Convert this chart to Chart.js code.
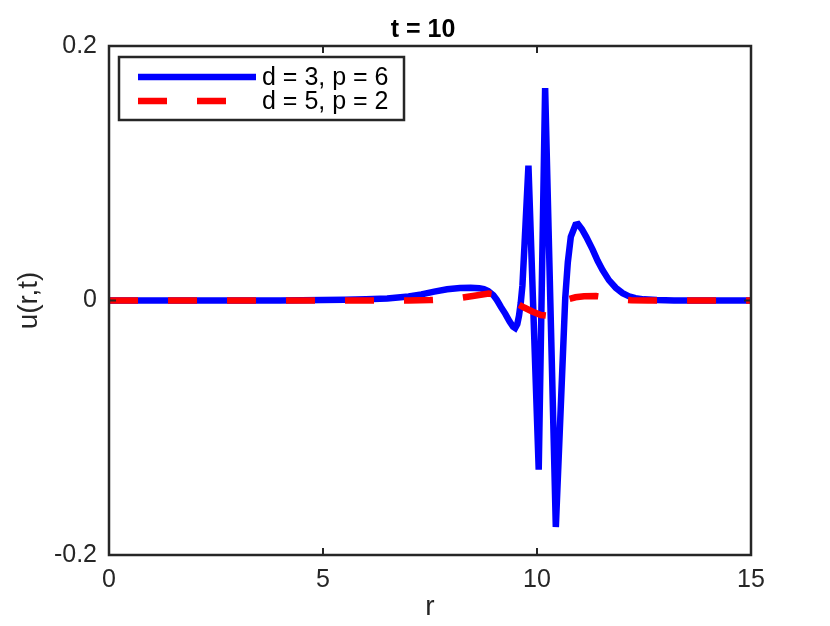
<!DOCTYPE html>
<html>
<head>
<meta charset="utf-8">
<script src="https://cdn.jsdelivr.net/npm/chart.js@4/dist/chart.umd.min.js"></script>
<style>
  html, body { margin: 0; padding: 0; background: #ffffff; }
  #wrap { width: 830px; height: 626px; position: relative; }
</style>
</head>
<body>
<div id="wrap"><canvas id="c" width="830" height="626"></canvas></div>
<script>
// ---- data ----
const chartTitle = 't = 10';
const xTitle = 'r';
const yTitle = 'u(r,t)';
const xTicks = [0, 5, 10, 15];
const yTicks = [-0.2, 0, 0.2];

const labelBlue = 'd = 3, p = 6';
const rBlue = [0, 1, 2, 3, 4, 5, 5.5, 6, 6.5, 7, 7.3, 7.6, 7.9, 8.2, 8.45, 8.65, 8.76, 8.86, 8.98, 9.06, 9.16, 9.26, 9.36, 9.44, 9.49, 9.54, 9.58, 9.62, 9.66, 9.71, 9.80, 10.04, 10.19, 10.44, 10.66, 10.72, 10.79, 10.9, 10.96, 11.05, 11.15, 11.3, 11.42, 11.53, 11.68, 11.84, 12.0, 12.15, 12.3, 12.5, 12.8, 13.2, 14, 15];
const uBlue = [0, 0, 0, 0, 0, 0.0003, 0.0005, 0.0009, 0.0015, 0.0032, 0.0048, 0.0070, 0.0088, 0.0099, 0.0101, 0.0097, 0.0089, 0.0075, 0.0042, 0.0005, -0.0052, -0.0105, -0.0165, -0.0205, -0.0216, -0.0185, -0.012, -0.002, 0.012, 0.045, 0.106, -0.133, 0.167, -0.178, 0.002, 0.03, 0.05, 0.0595, 0.060, 0.056, 0.050, 0.040, 0.031, 0.024, 0.016, 0.010, 0.0058, 0.0033, 0.0018, 0.0009, 0.0003, 0, 0, 0];

const labelRed = 'd = 5, p = 2';
const rRed = [0, 3, 6, 7, 7.5, 7.9, 8.2, 8.5, 8.87, 9.1, 9.3, 9.51, 9.7, 9.9, 10.09, 10.25, 10.4, 10.55, 10.71, 10.9, 11.1, 11.38, 11.6, 11.85, 12.2, 12.6, 15];
const uRed = [0, 0, 0, 0, 0.0003, 0.001, 0.002, 0.0035, 0.0055, 0.0045, 0.0015, -0.002, -0.0055, -0.0088, -0.0114, -0.012, -0.0095, -0.005, 0.0008, 0.0025, 0.0033, 0.0035, 0.0025, 0.001, 0.0002, 0, 0];

// ---- styling ----
const AXIS_COLOR = '#262626';
const FONT = "'Liberation Sans', Arial, Helvetica, sans-serif";

function toPoints(xs, ys) { return xs.map((x, i) => ({ x: x, y: ys[i] })); }

const frameAndLegend = {
  id: 'frameAndLegend',
  afterDatasetsDraw(chart) {
    const ctx = chart.ctx;
    const a = chart.chartArea;
    const xs = chart.scales.x, ys = chart.scales.y;
    ctx.save();
    // box
    ctx.strokeStyle = AXIS_COLOR;
    ctx.lineWidth = 2.5;
    ctx.strokeRect(a.left, a.top, a.right - a.left, a.bottom - a.top);
    // inward ticks
    const tl = 7;
    ctx.lineWidth = 2;
    ctx.beginPath();
    xs.ticks.forEach(t => {
      const px = xs.getPixelForValue(t.value);
      if (px > a.left + 2 && px < a.right - 2) {
        ctx.moveTo(px, a.bottom); ctx.lineTo(px, a.bottom - tl);
        ctx.moveTo(px, a.top); ctx.lineTo(px, a.top + tl);
      }
    });
    ys.ticks.forEach(t => {
      const py = ys.getPixelForValue(t.value);
      if (py > a.top + 2 && py < a.bottom - 2) {
        ctx.moveTo(a.left, py); ctx.lineTo(a.left + tl, py);
        ctx.moveTo(a.right, py); ctx.lineTo(a.right - tl, py);
      }
    });
    ctx.stroke();

    // title
    ctx.fillStyle = '#000000';
    ctx.font = "bold 25px " + FONT;
    ctx.textAlign = 'center';
    ctx.textBaseline = 'middle';
    ctx.fillText(chartTitle, (a.left + a.right) / 2 - 7, 30);

    // legend box
    const bx = 119, by = 57, bw = 285, bh = 63;
    ctx.fillStyle = '#ffffff';
    ctx.fillRect(bx, by, bw, bh);
    ctx.strokeStyle = AXIS_COLOR;
    ctx.lineWidth = 2.5;
    ctx.strokeRect(bx, by, bw, bh);
    const ds = chart.data.datasets;
    const rows = [77, 101];
    ds.forEach((d, i) => {
      ctx.beginPath();
      ctx.strokeStyle = d.borderColor;
      ctx.lineWidth = d.borderWidth;
      ctx.lineCap = 'butt';
      ctx.setLineDash(d.borderDash || []);
      ctx.moveTo(138, rows[i]);
      ctx.lineTo(256, rows[i]);
      ctx.stroke();
      ctx.setLineDash([]);
      ctx.fillStyle = '#000000';
      ctx.font = "25px " + FONT;
      ctx.textAlign = 'left';
      ctx.textBaseline = 'middle';
      ctx.fillText(d.label, 262, rows[i] + 1);
    });
    ctx.restore();
  }
};

new Chart(document.getElementById('c'), {
  type: 'line',
  data: {
    datasets: [
      { label: labelBlue, data: toPoints(rBlue, uBlue), borderColor: '#0000ff', borderWidth: 6.5, order: 1,
        pointRadius: 0, tension: 0, fill: false, borderJoinStyle: 'miter', borderCapStyle: 'butt' },
      { label: labelRed, data: toPoints(rRed, uRed), borderColor: '#ff0000', borderWidth: 6.5, order: 0,
        borderDash: [29, 30], pointRadius: 0, tension: 0, fill: false, borderCapStyle: 'butt' }
    ]
  },
  options: {
    responsive: false,
    animation: false,
    layout: { padding: { top: 46, right: 79, bottom: 0, left: 0 } },
    plugins: { legend: { display: false }, title: { display: false }, tooltip: { enabled: false } },
    scales: {
      x: {
        type: 'linear', min: 0, max: 15,
        afterBuildTicks: s => { s.ticks = xTicks.map(v => ({ value: v })); },
        ticks: { color: AXIS_COLOR, font: { family: FONT, size: 25 }, padding: 10, maxRotation: 0,
                 callback: v => String(v) },
        grid: { display: false, drawTicks: false },
        border: { display: false },
        title: { display: true, text: xTitle, color: AXIS_COLOR, font: { family: FONT, size: 28 },
                 padding: { top: 0, bottom: 2 } },
        afterFit: s => { s.height = 71; }
      },
      y: {
        type: 'linear', min: -0.2, max: 0.2,
        afterBuildTicks: s => { s.ticks = yTicks.map(v => ({ value: v })); },
        ticks: { color: AXIS_COLOR, font: { family: FONT, size: 25 }, padding: 12,
                 callback: v => (Math.abs(v) < 1e-9 ? '0' : String(v)) },
        grid: { display: false, drawTicks: false },
        border: { display: false },
        title: { display: true, text: yTitle, color: AXIS_COLOR, font: { family: FONT, size: 28 },
                 padding: { top: 12, bottom: 0 } },
        afterFit: s => { s.width = 109; }
      }
    }
  },
  plugins: [frameAndLegend]
});
</script>
</body>
</html>
